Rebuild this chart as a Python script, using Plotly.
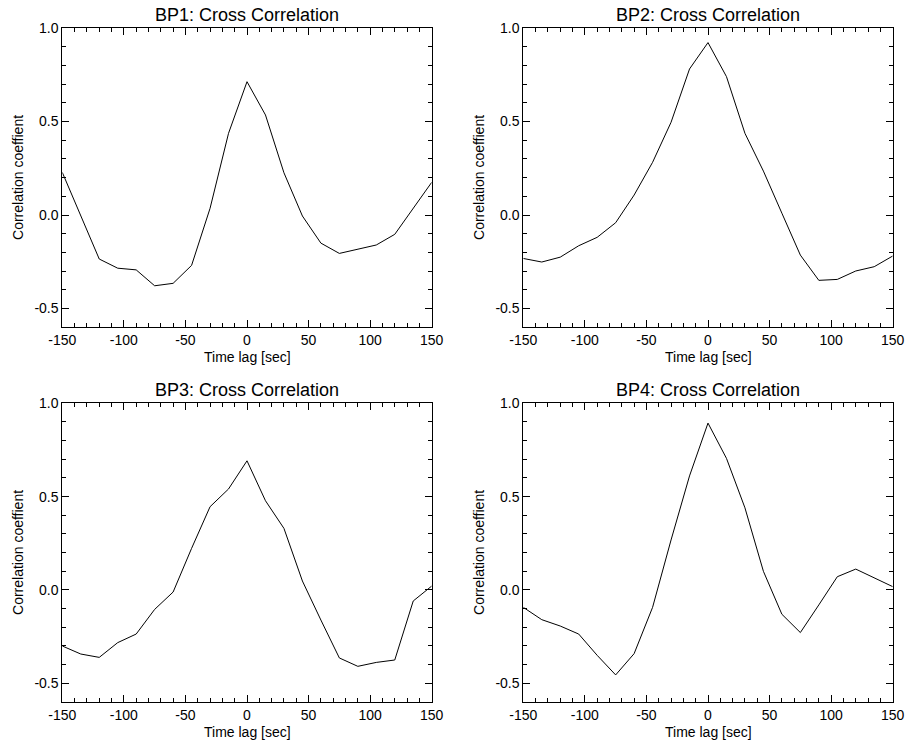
import plotly.graph_objects as go

lags = [-150, -135, -120, -105, -90, -75, -60, -45, -30, -15, 0,
        15, 30, 45, 60, 75, 90, 105, 120, 135, 150]

bp1 = [0.228, -0.005, -0.235, -0.284, -0.293, -0.378, -0.365, -0.269, 0.036, 0.437, 0.713,
       0.535, 0.226, -0.005, -0.150, -0.205, -0.184, -0.160, -0.103, 0.036, 0.175]
bp2 = [-0.232, -0.251, -0.225, -0.164, -0.119, -0.041, 0.107, 0.282, 0.496, 0.781, 0.922,
       0.740, 0.437, 0.235, 0.010, -0.214, -0.349, -0.344, -0.299, -0.276, -0.219]
bp3 = [-0.300, -0.343, -0.361, -0.282, -0.236, -0.104, -0.011, 0.223, 0.446, 0.541, 0.692,
       0.478, 0.330, 0.048, -0.161, -0.364, -0.409, -0.388, -0.375, -0.059, 0.021]
bp4 = [-0.093, -0.159, -0.193, -0.236, -0.350, -0.455, -0.341, -0.093, 0.268, 0.611, 0.894,
       0.705, 0.440, 0.100, -0.130, -0.228, -0.080, 0.071, 0.112, 0.066, 0.018]

titles = ["BP1: Cross Correlation", "BP2: Cross Correlation",
          "BP3: Cross Correlation", "BP4: Cross Correlation"]
series = [bp1, bp2, bp3, bp4]

W, H = 906, 742
FONT = "Liberation Sans, Arial, Helvetica, sans-serif"

# pixel boxes (left, right, top, bottom)
boxes = [(62.3, 431.7, 28.0, 327.3), (523.3, 892.7, 28.0, 327.3),
         (62.3, 431.7, 403.3, 702.0), (523.3, 892.7, 403.3, 702.0)]

fig = go.Figure()
annotations = []
for i, (vals, title, box) in enumerate(zip(series, titles, boxes)):
    n = i + 1
    xa = "x" if n == 1 else f"x{n}"
    ya = "y" if n == 1 else f"y{n}"
    fig.add_trace(go.Scatter(x=lags, y=vals, mode="lines",
                             line=dict(color="black", width=1),
                             xaxis=xa, yaxis=ya, showlegend=False,
                             hoverinfo="skip"))
    l, r, t, b = box
    axcommon = dict(showline=True, linecolor="black", linewidth=1, mirror="ticks",
                    ticks="inside", ticklen=7, tickwidth=1, tickcolor="black",
                    showgrid=False, zeroline=False, automargin=False,
                    tickfont=dict(family=FONT, size=14, color="black"))
    fig.update_layout(**{
        ("xaxis" if n == 1 else f"xaxis{n}"): dict(
            domain=[l / W, r / W], anchor=ya, range=[-150, 150],
            tickmode="array", tickvals=[-150, -100, -50, 0, 50, 100, 150],
            ticktext=["-150", "-100", "-50", "0", "50", "100", "150"],
            minor=dict(dtick=10, tick0=0, ticks="inside", ticklen=4,
                       tickcolor="black", tickwidth=1, showgrid=False),
            **axcommon),
        ("yaxis" if n == 1 else f"yaxis{n}"): dict(
            domain=[1 - b / H, 1 - t / H], anchor=xa, range=[-0.6, 1.0],
            tickmode="array", tickvals=[-0.5, 0.0, 0.5, 1.0],
            ticktext=["-0.5", "0.0", "0.5", "1.0"],
            minor=dict(dtick=0.1, tick0=0, ticks="inside", ticklen=4,
                       tickcolor="black", tickwidth=1, showgrid=False),
            **axcommon),
    })
    cx = (l + r) / 2
    annotations.append(dict(text=title, x=cx / W, y=1 - (t - 13.5) / H,
                            xref="paper", yref="paper", showarrow=False,
                            xanchor="center", yanchor="middle",
                            font=dict(family=FONT, size=18, color="black")))
    annotations.append(dict(text="Time lag [sec]", x=cx / W, y=1 - (b + 29.5) / H,
                            xref="paper", yref="paper", showarrow=False,
                            xanchor="center", yanchor="middle",
                            font=dict(family=FONT, size=14, color="black")))
    annotations.append(dict(text="Correlation coeffient", x=(l - 45) / W,
                            y=1 - ((t + b) / 2) / H, textangle=-90,
                            xref="paper", yref="paper", showarrow=False,
                            xanchor="center", yanchor="middle",
                            font=dict(family=FONT, size=14, color="black")))

fig.update_layout(width=W, height=H,
                  margin=dict(l=0, r=0, t=0, b=0, pad=0, autoexpand=False),
                  paper_bgcolor="white", plot_bgcolor="white",
                  annotations=annotations)

fig.write_html("out.html", config={"responsive": False})
